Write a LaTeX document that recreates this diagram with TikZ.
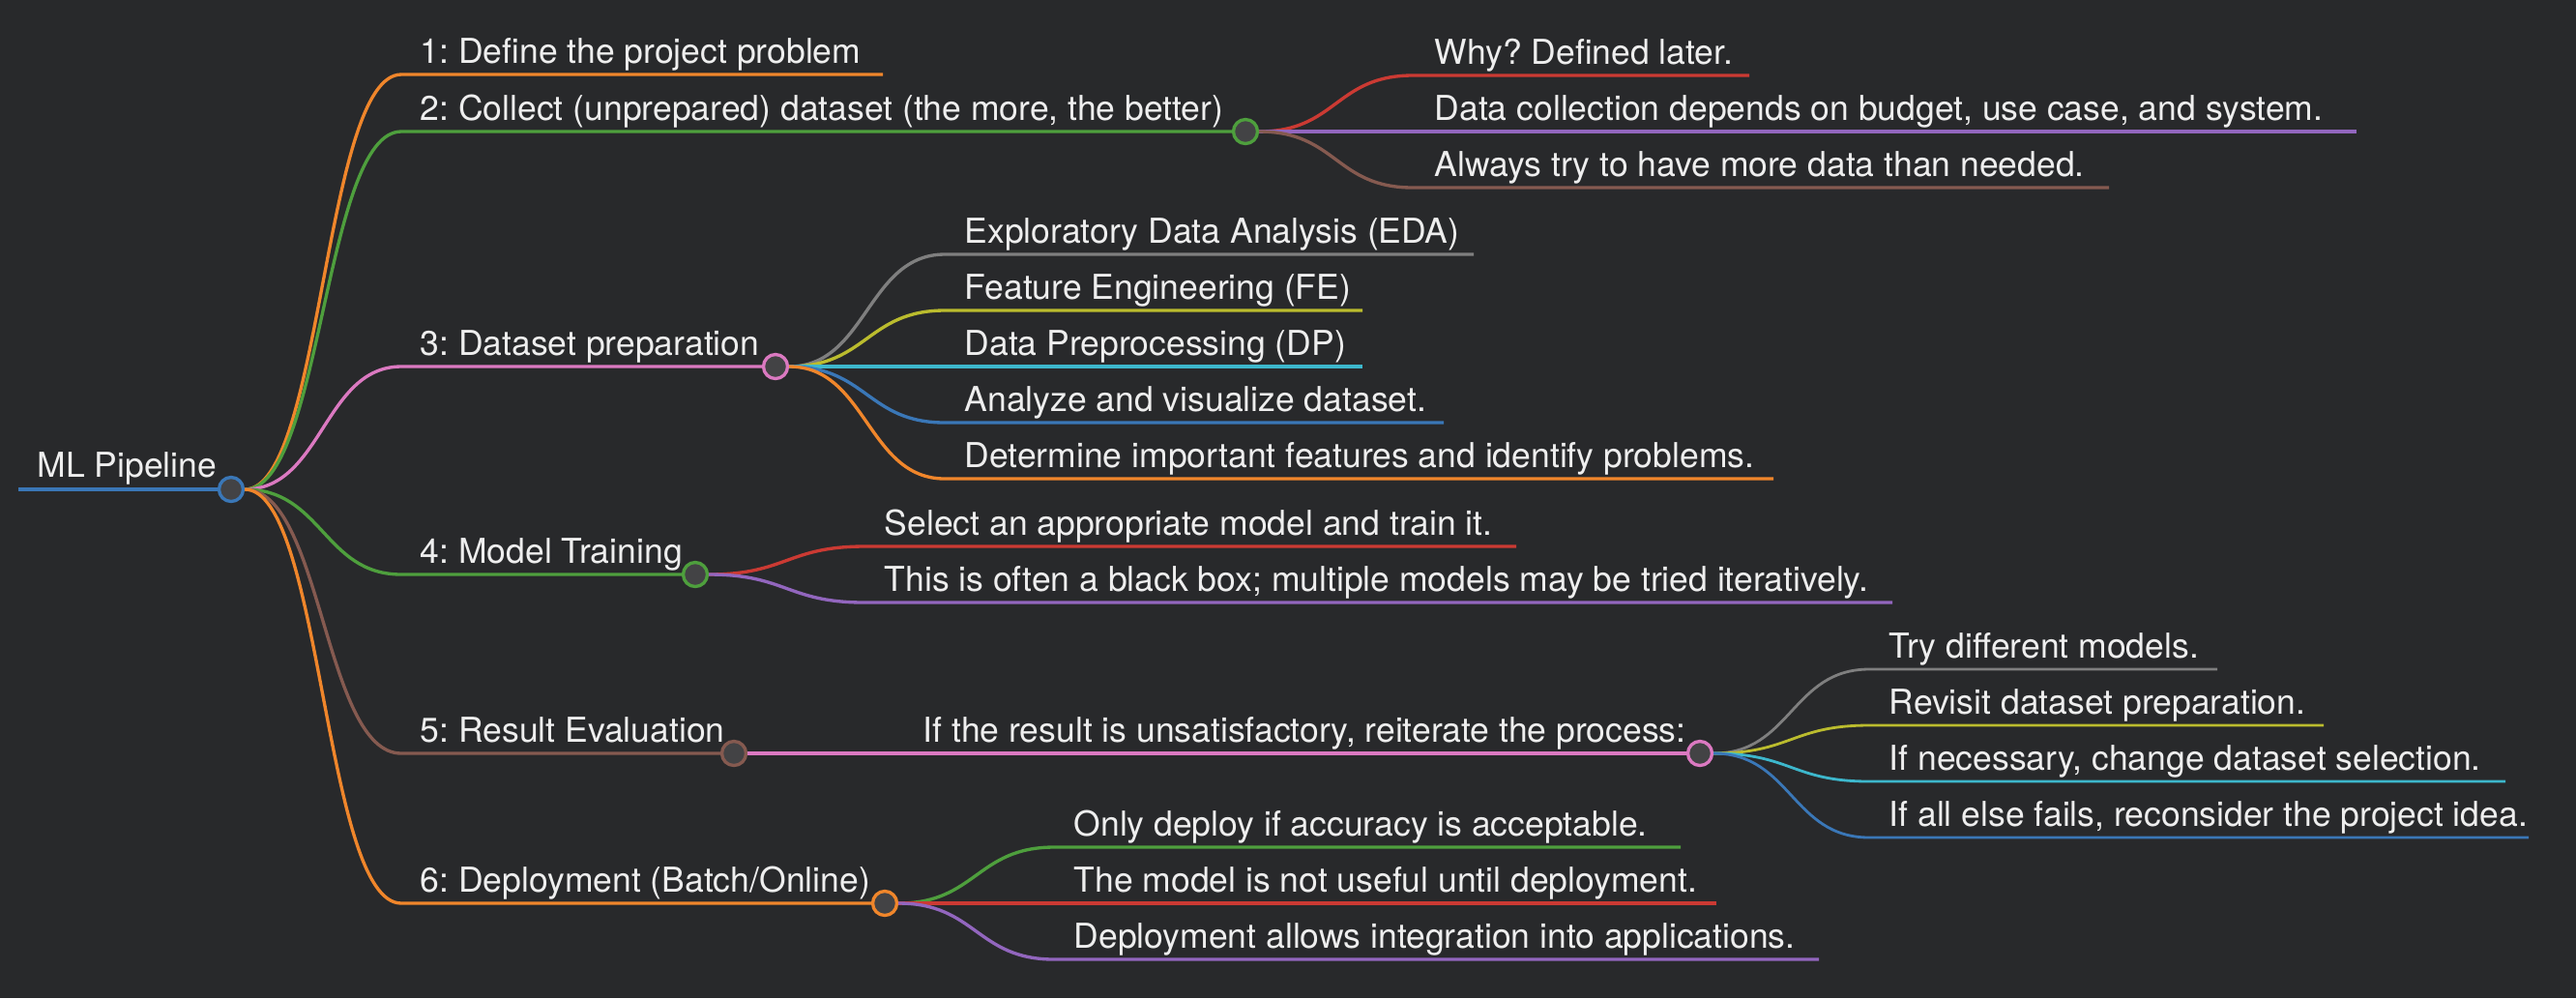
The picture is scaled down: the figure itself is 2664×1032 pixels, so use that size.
\documentclass[tikz,border=0pt]{standalone}
\usepackage{fontspec}
\setmainfont{TeX Gyre Heros}
\frenchspacing

\definecolor{fond}{HTML}{28292B}
\definecolor{remplir}{HTML}{434345}
\definecolor{blanc}{HTML}{EEEEEE}
\definecolor{bleuL}{HTML}{3A77B7}
\definecolor{orangeL}{HTML}{F0862B}
\definecolor{vertL}{HTML}{4E9F3D}
\definecolor{rougeL}{HTML}{CB3A33}
\definecolor{violetL}{HTML}{9266BE}
\definecolor{brunL}{HTML}{855A50}
\definecolor{roseL}{HTML}{DB79C1}
\definecolor{grisL}{HTML}{7F7F7F}
\definecolor{oliveL}{HTML}{BBBC2E}
\definecolor{cyanL}{HTML}{3DB7CC}

\begin{document}
\begin{tikzpicture}[x=0.01cm,y=-0.01cm]
	\tikzstyle{texte}=[anchor=base west, inner sep=0, text=blanc, font=\fontsize{10.1}{12}\selectfont]
	\tikzstyle{rond}=[circle, fill=remplir, line width=0.95pt, minimum size=0.25cm, inner sep=0]
	\tikzstyle{trait}=[line width=0.95pt]
	\tikzstyle{fin}=[line width=0.8pt]
	\fill[fond] (0,0) rectangle (2664,1032);

	% racine
	\coordinate (As) at (19,506);
	\node[rond, draw=bleuL] (A) at (239,506) {};
	\node[texte] (At) at (38,493) {ML Pipeline};
	\draw[bleuL, line width=1.3pt] (As) -- (A);

	% premier niveau
	\coordinate (Bs) at (415,77);  \coordinate (Be) at (913,77);
	\coordinate (Cs) at (415,136); \node[rond, draw=vertL] (C) at (1288,136) {};
	\coordinate (Ds) at (415,379); \node[rond, draw=roseL] (D) at (802,379) {};
	\coordinate (Es) at (415,594); \node[rond, draw=vertL] (E) at (719,594) {};
	\coordinate (Fs) at (415,779); \node[rond, draw=brunL] (F) at (759,779) {};
	\coordinate (Gs) at (415,934); \node[rond, draw=orangeL] (G) at (915,934) {};
	\node[texte] (Bt) at (434,65) {1: Define the project problem};
	\node[texte] (Ct) at (434,124) {2: Collect (unprepared) dataset (the more, the better)};
	\node[texte] (Dt) at (434,367) {3: Dataset preparation};
	\node[texte] (Et) at (434,582) {4: Model Training};
	\node[texte] (Ft) at (434,767) {5: Result Evaluation};
	\node[texte] (Gt) at (434,922) {6: Deployment (Batch/Online)};
	\draw[trait, orangeL] (A.east) .. controls +(80,0) and +(-80,0) .. (Bs) -- (Be);
	\draw[trait, vertL] (A.east) .. controls +(80,0) and +(-80,0) .. (Cs) -- (C);
	\draw[trait, roseL] (A.east) .. controls +(80,0) and +(-80,0) .. (Ds) -- (D);
	\draw[trait, vertL] (A.east) .. controls +(80,0) and +(-80,0) .. (Es) -- (E);
	\draw[trait, brunL] (A.east) .. controls +(80,0) and +(-80,0) .. (Fs) -- (F);
	\draw[trait, orangeL] (A.east) .. controls +(80,0) and +(-80,0) .. (Gs) -- (G);

	% 2: collect
	\coordinate (C1s) at (1461,78);  \coordinate (C1e) at (1809,78);
	\coordinate (C2s) at (1461,136); \coordinate (C2e) at (2437,136);
	\coordinate (C3s) at (1461,194); \coordinate (C3e) at (2181,194);
	\node[texte] (C1t) at (1483,66) {Why? Defined later.};
	\node[texte] (C2t) at (1483,124) {Data collection depends on budget, use case, and system.};
	\node[texte] (C3t) at (1483,182) {Always try to have more data than needed.};
	\draw[trait, rougeL] (C.east) .. controls +(80,0) and +(-80,0) .. (C1s) -- (C1e);
	\draw[trait, violetL] (C.east) .. controls +(80,0) and +(-80,0) .. (C2s) -- (C2e);
	\draw[trait, brunL] (C.east) .. controls +(80,0) and +(-80,0) .. (C3s) -- (C3e);

	% 3: preparation
	\coordinate (D1s) at (977,263); \coordinate (D1e) at (1524,263);
	\coordinate (D2s) at (977,321); \coordinate (D2e) at (1409,321);
	\coordinate (D3s) at (977,379); \coordinate (D3e) at (1409,379);
	\coordinate (D4s) at (977,437); \coordinate (D4e) at (1493,437);
	\coordinate (D5s) at (977,495); \coordinate (D5e) at (1834,495);
	\node[texte] (D1t) at (997,251) {Exploratory Data Analysis (EDA)};
	\node[texte] (D2t) at (997,309) {Feature Engineering (FE)};
	\node[texte] (D3t) at (997,367) {Data Preprocessing (DP)};
	\node[texte] (D4t) at (997,425) {Analyze and visualize dataset.};
	\node[texte] (D5t) at (997,483) {Determine important features and identify problems.};
	\draw[trait, grisL] (D.east) .. controls +(80,0) and +(-80,0) .. (D1s) -- (D1e);
	\draw[trait, oliveL] (D.east) .. controls +(80,0) and +(-80,0) .. (D2s) -- (D2e);
	\draw[trait, cyanL] (D.east) .. controls +(80,0) and +(-80,0) .. (D3s) -- (D3e);
	\draw[trait, bleuL] (D.east) .. controls +(80,0) and +(-80,0) .. (D4s) -- (D4e);
	\draw[trait, orangeL] (D.east) .. controls +(80,0) and +(-80,0) .. (D5s) -- (D5e);

	% 4: training
	\coordinate (E1s) at (894,565); \coordinate (E1e) at (1568,565);
	\coordinate (E2s) at (894,623); \coordinate (E2e) at (1957,623);
	\node[texte] (E1t) at (914,553) {Select an appropriate model and train it.};
	\node[texte] (E2t) at (914,611) {This is often a black box; multiple models may be tried iteratively.};
	\draw[trait, rougeL] (E.east) .. controls +(80,0) and +(-80,0) .. (E1s) -- (E1e);
	\draw[trait, violetL] (E.east) .. controls +(80,0) and +(-80,0) .. (E2s) -- (E2e);

	% 5: evaluation
	\coordinate (F1s) at (934,779);
	\node[rond, draw=roseL] (F1) at (1758,779) {};
	\node[texte] (F1t) at (954,767) {If the result is unsatisfactory, reiterate the process:};
	\draw[trait, roseL] (F.east) -- (F1s) -- (F1);
	\coordinate (F11s) at (1933,692); \coordinate (F11e) at (2293,692);
	\coordinate (F12s) at (1933,750); \coordinate (F12e) at (2403,750);
	\coordinate (F13s) at (1933,808); \coordinate (F13e) at (2591,808);
	\coordinate (F14s) at (1933,866); \coordinate (F14e) at (2615,866);
	\node[texte] (F11t) at (1953,680) {Try different models.};
	\node[texte] (F12t) at (1953,738) {Revisit dataset preparation.};
	\node[texte] (F13t) at (1953,796) {If necessary, change dataset selection.};
	\node[texte] (F14t) at (1953,854) {If all else fails, reconsider the project idea.};
	\draw[fin, grisL] (F1.east) .. controls +(80,0) and +(-80,0) .. (F11s) -- (F11e);
	\draw[fin, oliveL] (F1.east) .. controls +(80,0) and +(-80,0) .. (F12s) -- (F12e);
	\draw[fin, cyanL] (F1.east) .. controls +(80,0) and +(-80,0) .. (F13s) -- (F13e);
	\draw[fin, bleuL] (F1.east) .. controls +(80,0) and +(-80,0) .. (F14s) -- (F14e);

	% 6: deployment
	\coordinate (G1s) at (1090,876); \coordinate (G1e) at (1738,876);
	\coordinate (G2s) at (1090,934); \coordinate (G2e) at (1775,934);
	\coordinate (G3s) at (1090,992); \coordinate (G3e) at (1881,992);
	\node[texte] (G1t) at (1110,864) {Only deploy if accuracy is acceptable.};
	\node[texte] (G2t) at (1110,922) {The model is not useful until deployment.};
	\node[texte] (G3t) at (1110,980) {Deployment allows integration into applications.};
	\draw[trait, vertL] (G.east) .. controls +(80,0) and +(-80,0) .. (G1s) -- (G1e);
	\draw[trait, rougeL] (G.east) .. controls +(80,0) and +(-80,0) .. (G2s) -- (G2e);
	\draw[trait, violetL] (G.east) .. controls +(80,0) and +(-80,0) .. (G3s) -- (G3e);
\end{tikzpicture}
\end{document}
